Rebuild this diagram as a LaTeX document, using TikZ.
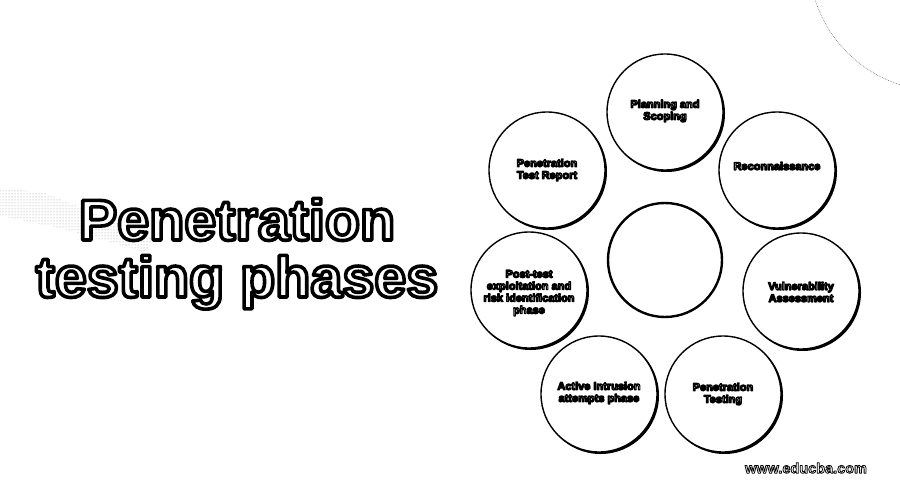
\documentclass[tikz,border=0pt]{standalone}
\usepackage{fontspec}
\setmainfont{Liberation Sans}
\usetikzlibrary{patterns}
% outlined text: fill white, stroke black (single text copy)
\newcommand\outl[2]{\special{pdf:literal direct 2 Tr #1 w 1 j 0 G}#2\special{pdf:literal direct 0 Tr}}
\tikzset{
  phase/.style={circle, draw=black, line width=1.4pt, fill=white, minimum size=116pt, inner sep=0pt},
  shadowc/.style={circle, fill=black, minimum size=117pt, inner sep=0pt},
  hubc/.style={circle, draw=black, line width=2.4pt, fill=white, minimum size=114pt, inner sep=0pt},
  lbl/.style={font=\bfseries\fontsize{11}{12}\selectfont, align=center, inner sep=0pt, text=white},
  ttl/.style={font=\bfseries\fontsize{57.5}{58}\selectfont, inner sep=0pt, anchor=base, text=white},
  wm/.style={font=\bfseries\fontsize{14.5}{15}\selectfont, inner sep=0pt, text=white},
}
\begin{document}
\begin{tikzpicture}[x=1pt,y=-1pt]
\useasboundingbox (0,0) rectangle (900,500);
\fill[white] (0,0) rectangle (900,500);
% decorative background
\begin{scope}
  \clip (0,0) rectangle (900,500);
  \draw[gray, densely dotted, line width=0.7pt] (940,-40) circle (131);
\end{scope}
\fill[pattern=dots, pattern color=gray!80] (0,188) -- (45,193) -- (155,238) -- (145,252) -- (60,228) -- (0,216) -- cycle;
% title
\node[ttl] (t1) at (237,240) {\outl{3.6}{Penetration}};
\node[ttl] (t2) at (237,297) {\outl{3.6}{testing phases}};
% circles
\node[shadowc] at (666.5,113.5) {};
\node[phase] (plan) at (665,112) {};
\node[shadowc] at (778.5,171.5) {};
\node[phase] (recon) at (777,170) {};
\node[shadowc] at (802.5,292.5) {};
\node[phase] (vuln) at (801,291) {};
\node[shadowc] at (724.5,395.5) {};
\node[phase] (pent) at (723,394) {};
\node[shadowc] at (600.5,395.5) {};
\node[phase] (active) at (599,394) {};
\node[shadowc] at (530.5,291.5) {};
\node[phase] (post) at (529,290) {};
\node[shadowc] at (548.5,171.5) {};
\node[phase] (report) at (547,170) {};
\node[hubc] (hub) at (665,260) {};
% labels
\node[lbl] (lplan) at (665,111) {\outl{1.2}{Planning and\\Scoping}};
\node[lbl] (lrecon) at (777,166) {\outl{1.2}{Reconnaissance}};
\node[lbl] (lvuln) at (801,292) {\outl{1.2}{Vulnerability\\Assessment}};
\node[lbl] (lpent) at (723,394) {\outl{1.2}{Penetration\\Testing}};
\node[lbl] (lactive) at (599,393) {\outl{1.2}{Active Intrusion\\attempts phase}};
\node[lbl] (lpost) at (529,293) {\outl{1.2}{Post-test\\exploitation and\\risk identification\\phase}};
\node[lbl] (lreport) at (547,170) {\outl{1.2}{Penetration\\Test Report}};
% watermark
\node[wm] (wmark) at (806,468) {\outl{0.8}{www.educba.com}};
\end{tikzpicture}
\end{document}
